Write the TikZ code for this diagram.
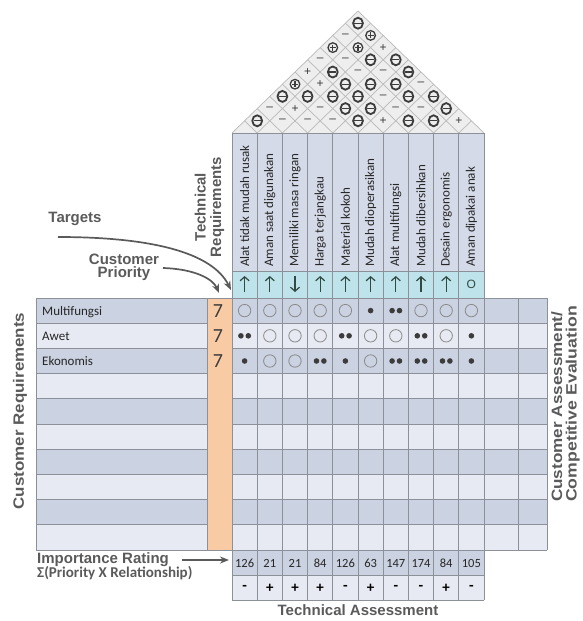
\documentclass[tikz,border=0pt]{standalone}
\usepackage{fontspec}
\setmainfont{Carlito}
\newfontfamily\lblfont{Liberation Sans}
\usetikzlibrary{arrows.meta}
\definecolor{hdrc}{HTML}{D4DAE8}
\definecolor{tgtc}{HTML}{BFE3EA}
\definecolor{rowd}{HTML}{CBD2E1}
\definecolor{rowl}{HTML}{E7EAF2}
\definecolor{orangec}{HTML}{F9CBA4}
\definecolor{gridc}{HTML}{8C9099}
\definecolor{rooffill}{HTML}{EEEEEE}
\definecolor{roofline}{HTML}{B9B9B9}
\definecolor{symc}{HTML}{3C3C3C}
\definecolor{lblc}{HTML}{5A5A5A}
\definecolor{txtc}{HTML}{262626}
\definecolor{circc}{HTML}{8A8A8A}
\definecolor{arrc}{HTML}{2F4A42}

\newcommand\roofmark[3]{%
  \pgfmathsetmacro\rmx{232+12.6*(#1+#2-1)}%
  \pgfmathsetmacro\rmy{133-12.2*(#2-#1)}%
  \if#3m
    \draw[draw=symc,line width=1.8pt] (\rmx,\rmy) ellipse[x radius=4.9pt,y radius=5.5pt];
    \draw[draw=symc,line width=1.3pt] (\rmx-3.6,\rmy) -- (\rmx+3.6,\rmy);
  \fi
  \if#3p
    \draw[draw=symc,line width=1.3pt] (\rmx,\rmy) circle[radius=4.8pt];
    \draw[draw=symc,line width=1.1pt] (\rmx-3,\rmy) -- (\rmx+3,\rmy) (\rmx,\rmy-3) -- (\rmx,\rmy+3);
  \fi
  \if#3a \node[roofsign] (rs#1-#2) at (\rmx,\rmy) {+};\fi
  \if#3d \node[roofsign] (rs#1-#2) at (\rmx,\rmy) {–};\fi
}
\newcommand\relmark[3]{%
  \pgfmathsetmacro\rlx{232+25.2*(#2-0.5)}%
  \pgfmathsetmacro\rly{298+25.2*(#1-0.5)}%
  \if#3o \draw[draw=circc,line width=0.8pt] (\rlx,\rly) circle[radius=6.2pt];\fi
  \if#3s \fill[symc] (\rlx,\rly) circle[radius=2.8pt];\fi
  \if#3w \fill[symc] (\rlx-3.7,\rly) circle[radius=2.8pt] (\rlx+3.7,\rly) circle[radius=2.8pt];\fi
}

\begin{document}
\begin{tikzpicture}[x=1pt,y=-1pt,
  gridline/.style={draw=gridc,line width=0.75pt},
  roofgrid/.style={draw=roofline,line width=0.7pt},
  lbl/.style={font=\lblfont\bfseries\fontsize{15}{15.5}\selectfont,text=lblc,inner sep=0pt},
  hdrtxt/.style={font=\fontsize{13}{15}\selectfont,text=txtc,rotate=90,anchor=west,inner sep=0pt},
  rowtxt/.style={font=\fontsize{13}{15}\selectfont,text=txtc,anchor=base west,inner sep=0pt},
  prio/.style={font=\fontsize{20}{22}\selectfont,text=txtc!90,anchor=base,inner sep=0pt},
  numtxt/.style={font=\fontsize{12.5}{14}\selectfont,text=txtc,inner sep=0pt},
  asstxt/.style={font=\bfseries\fontsize{15}{16}\selectfont,text=black,inner sep=0pt},
  roofsign/.style={font=\lblfont\fontsize{12}{14}\selectfont,text=symc,inner sep=0pt},
  tarrow/.style={draw=arrc,line width=1.2pt,-{Straight Barb[length=4pt,width=9pt]}},
  flow/.style={draw=lblc,line width=1.7pt,-{Stealth[length=9pt,width=7pt]}},
]
\useasboundingbox (0,0) rectangle (582,621);

% ---------- roof ----------
\fill[rooffill] (232,133) -- (358,11) -- (484,133) -- cycle;
\foreach \k in {0,...,10}{
  \pgfmathsetmacro\xb{232+25.2*\k}
  \pgfmathsetmacro\xr{\xb+12.6*(10-\k)}
  \pgfmathsetmacro\yr{133-12.2*(10-\k)}
  \pgfmathsetmacro\xl{\xb-12.6*\k}
  \pgfmathsetmacro\yl{133-12.2*\k}
  \draw[roofgrid] (\xb,133) -- (\xr,\yr);
  \draw[roofgrid] (\xb,133) -- (\xl,\yl);
}
\foreach \i/\j/\ty in {
  1/2/m,2/3/d,3/4/d,4/5/d,5/6/m,6/7/a,7/8/m,8/9/m,9/10/a,
  1/3/d,2/4/a,3/5/d,4/6/m,5/7/m,6/8/d,7/9/d,8/10/m,
  1/4/m,2/5/m,3/6/m,4/7/m,5/8/d,6/9/m,7/10/m,
  1/5/p,2/6/a,3/7/m,4/8/m,5/9/m,6/10/d,
  1/6/a,2/7/m,3/8/d,4/9/d,5/10/m,
  1/7/d,2/8/d,3/9/m,4/10/m,
  1/8/p,2/9/p,3/10/a,
  1/9/d,2/10/p,
  1/10/m}{\roofmark{\i}{\j}{\ty}}

% ---------- fills ----------
\fill[hdrc] (232,133) rectangle (484,271);
\fill[tgtc] (232,271) rectangle (484,298);
\foreach \r in {1,...,10}{
  \pgfmathsetmacro\ya{298+25.2*(\r-1)}
  \pgfmathsetmacro\yb{298+25.2*\r}
  \ifodd\r \fill[rowd] (36,\ya) rectangle (547,\yb); \else \fill[rowl] (36,\ya) rectangle (547,\yb); \fi
}
\fill[orangec] (207,298) rectangle (232,550);
\fill[rowd] (232,550) rectangle (484,575);
\fill[rowl] (232,575) rectangle (484,600);

% ---------- grid ----------
\foreach \k in {0,...,10}{
  \pgfmathsetmacro\xv{232+25.2*\k}
  \draw[gridline] (\xv,133) -- (\xv,600);
}
\foreach \xv in {36,207,518,547}{\draw[gridline] (\xv,298) -- (\xv,550);}
\draw[gridline] (232,133) -- (484,133) (232,271) -- (484,271) (232,575) -- (484,575) (232,600) -- (484,600);
\draw[gridline] (36,298) -- (547,298) (36,550) -- (547,550);
\foreach \r in {1,...,9}{
  \pgfmathsetmacro\yh{298+25.2*\r}
  \draw[gridline] (36,\yh) -- (207,\yh) (232,\yh) -- (547,\yh);
}

% ---------- headers ----------
\foreach \htext [count=\k] in {Alat tidak mudah rusak,Aman saat digunakan,Memiliki masa ringan,Harga terjangkau,Material kokoh,Mudah dioperasikan,Alat multifungsi,Mudah dibersihkan,Desain ergonomis,Aman dipakai anak}{
  \node[hdrtxt] (hd\k) at ({232+25.2*(\k-0.5)},267) {\htext};
}

% ---------- targets ----------
\foreach \dir [count=\k] in {u,u,d,u,u,u,u,u,u}{
  \pgfmathsetmacro\xa{232+25.2*(\k-0.5)}
  \if\dir u \draw[tarrow] (\xa,292) -- (\xa,276); \else \draw[tarrow] (\xa,276) -- (\xa,292); \fi
}
\node[font=\lblfont\fontsize{12}{14}\selectfont,text=arrc,inner sep=0pt] (tg10) at (471.4,284.5) {O};

% ---------- relationships ----------
\foreach \ty [count=\c] in {o,o,o,o,o,s,w,o,o,o}{\relmark{1}{\c}{\ty}}
\foreach \ty [count=\c] in {w,o,o,o,w,o,o,w,o,s}{\relmark{2}{\c}{\ty}}
\foreach \ty [count=\c] in {s,o,o,w,s,o,w,w,w,s}{\relmark{3}{\c}{\ty}}

% ---------- customer requirements ----------
\node[rowtxt] (cr1) at (42,315) {Multifungsi};
\node[rowtxt] (cr2) at (42,340.2) {Awet};
\node[rowtxt] (cr3) at (42,365.4) {Ekonomis};
\node[prio] (pr1) at (218,317.5) {7};
\node[prio] (pr2) at (218,342.7) {7};
\node[prio] (pr3) at (218,367.9) {7};

% ---------- importance / assessment ----------
\foreach \v [count=\k] in {126,21,21,84,126,63,147,174,84,105}{
  \node[numtxt] (im\k) at ({232+25.2*(\k-0.5)},563) {\v};
}
\foreach \v [count=\k] in {-,+,+,+,-,+,-,-,+,-}{
  \node[asstxt] (as\k) at ({232+25.2*(\k-0.5)},588) {\v};
}

% ---------- labels ----------
\node[lbl,anchor=base] (targets) at (75,222.7) {Targets};
\node[lbl,align=center,anchor=base,font=\lblfont\bfseries\fontsize{15}{13.5}\selectfont] (cpri) at (124,277.5) {Customer\\Priority};
\node[lbl,align=center,rotate=90,font=\lblfont\bfseries\fontsize{15}{15.5}\selectfont] (techreq) at (209.5,207) {Technical\\Requirements};
\node[lbl,rotate=90] (custreq) at (20,411) {\scalebox{1.13}[1]{Customer Requirements}};
\node[lbl,rotate=90,align=left,anchor=north west,font=\lblfont\bfseries\fontsize{15}{14.5}\selectfont] (caeval) at (551,502) {\scalebox{1.14}[1]{Customer Assessment/}\\\scalebox{1.18}[1]{Competitive Evaluation}};
\node[lbl,anchor=base west] (imprat) at (37,563.5) {Importance Rating};
\node[anchor=base west,inner sep=0pt,text=lblc,font=\bfseries\fontsize{15}{16}\selectfont] (sigma) at (37,577.5) {Σ(Priority X Relationship)};
\node[lbl,anchor=base] (techass) at (358,615.5) {Technical Assessment};

% ---------- connectors ----------
\coordinate (tgtA) at (58,237);
\coordinate (tgtB) at (231,290);
\coordinate (priA) at (163,268);
\coordinate (priB) at (219,293);
\coordinate (impA) at (182,560);
\coordinate (impB) at (229,560);
\draw[flow] (tgtA) .. controls (150,237) and (212,252) .. (tgtB);
\draw[flow] (priA) .. controls (195,269) and (213,279) .. (priB);
\draw[flow] (impA) -- (impB);
\end{tikzpicture}
\end{document}
